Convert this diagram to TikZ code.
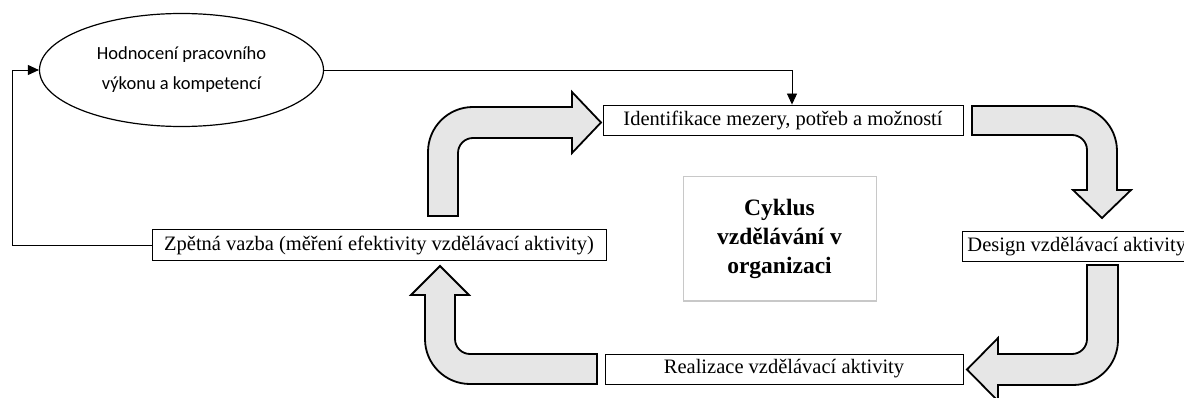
\documentclass[tikz,border=0pt]{standalone}
\usepackage{fontspec}
\setmainfont{Liberation Serif}
\newfontfamily\calib{Carlito}
\usetikzlibrary{arrows.meta,shapes.geometric}
\definecolor{arrowgrey}{HTML}{E6E6E6}
\definecolor{frameg}{HTML}{C8C8C8}
\begin{document}
\begin{tikzpicture}[x=1pt,y=-1pt,
  box/.style={draw=black,line width=0.9pt,fill=white,inner sep=0pt,minimum height=30pt,font=\fontsize{20.5}{24}\selectfont},
  conn/.style={line width=0.9pt,-{Triangle[length=11pt,width=10pt]}},
  blk/.style={draw=black,line width=1.8pt,fill=arrowgrey,line join=miter}]
\useasboundingbox (0,0) rectangle (1184,398);

% nodes
\node[ellipse,draw=black,line width=1.2pt,minimum width=284pt,minimum height=113pt,inner sep=0pt,
      align=center,font=\calib\fontsize{18.5}{30}\selectfont] (ell) at (181.5,70) {Hodnocení pracovního\\výkonu a kompetencí};
\node[box,minimum width=360pt] (idf) at (783,120) {Identifikace mezery, potřeb a možností};
\node[box,anchor=west,inner xsep=5pt] (des) at (962,246.5) {Design vzdělávací aktivity};
\node[box,minimum width=358pt] (real) at (784,369) {Realizace vzdělávací aktivity};
\node[box,minimum width=454pt,minimum height=31pt] (zpet) at (379,245) {Zpětná vazba (měření efektivity vzdělávací aktivity)};
\node[draw=frameg,line width=1pt,minimum width=193pt,minimum height=124pt,inner sep=0pt,align=center,
      font=\fontsize{23.5}{29}\selectfont\bfseries] (cyk) at (779.5,239) {Cyklus\\vzdělávání v\\organizaci};

% thin connectors
\coordinate (fl) at (12,245);
\draw[conn] (zpet.west) -- (fl) |- (ell.west);
\draw[conn] (ell.east) -| ([xshift=9pt]idf.north);

% block arrows
\draw[blk] (428,216) -- (428,152) .. controls (428,127.1) and (448.1,107) .. (473,107)
  -- (572,107) -- (572,92) -- (601,122.5) -- (572,153) -- (572,138) -- (473,138)
  .. controls (464.7,138) and (458,144.7) .. (458,153) -- (458,216) -- cycle;
\draw[blk] (972,106) -- (1072,106) .. controls (1096.9,106) and (1117,126.1) .. (1117,151)
  -- (1117,190) -- (1131,190) -- (1102,218) -- (1073,190) -- (1087,190) -- (1087,150)
  .. controls (1087,141.7) and (1080.3,135) .. (1072,135) -- (972,135) -- cycle;
\draw[blk] (1087,265) -- (1118,265) -- (1118,340) .. controls (1118,364.9) and (1097.9,385) .. (1073,385)
  -- (998,385) -- (998,401) -- (967,369.5) -- (998,338) -- (998,354) -- (1072,354)
  .. controls (1080.3,354) and (1087,347.3) .. (1087,339) -- cycle;
\draw[blk] (597,354) -- (470,354) .. controls (461.7,354) and (455,347.3) .. (455,339)
  -- (455,295) -- (469,295) -- (440,266) -- (411,295) -- (425,295) -- (425,339)
  .. controls (425,363.9) and (445.1,384) .. (470,384) -- (597,384) -- cycle;
\end{tikzpicture}
\end{document}
